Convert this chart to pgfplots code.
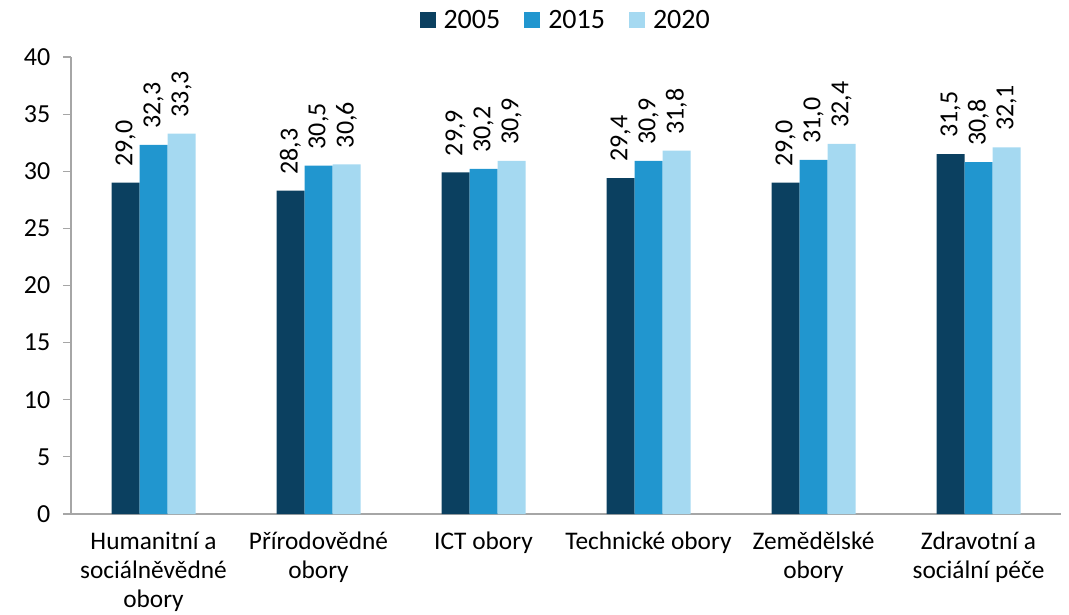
\documentclass[border=0pt]{standalone}
\usepackage{pgfplots}
\pgfplotsset{compat=1.18}
\usepackage{fontspec}
\setmainfont{Carlito}
\usetikzlibrary{calc}

\definecolor{c05}{HTML}{0B4060}
\definecolor{c15}{HTML}{2196CF}
\definecolor{c20}{HTML}{A5D9F1}
\definecolor{axgray}{HTML}{A6A6A6}

% rok 2005, 2015, 2020 po oborech (x = 0..5)
\pgfplotstableread{
x y05 y15 y20
0 29.0 32.3 33.3
1 28.3 30.5 30.6
2 29.9 30.2 30.9
3 29.4 30.9 31.8
4 29.0 31.0 32.4
5 31.5 30.8 32.1
}\data

\begin{document}
\begin{tikzpicture}
\begin{axis}[
    scale only axis, width=742.5pt, height=342.75pt,
    ymin=0, ymax=40, ytick={0,5,...,40},
    xmin=-0.5, xmax=5.5,
    xtick={0,...,5},
    xticklabels={{Humanitní a\\sociálněvědné\\obory},{Přírodovědné\\obory},{ICT obory},{Technické obory},{Zemědělské\\obory},{Zdravotní a\\sociální péče}},
    x tick label style={align=center, font=\fontsize{19}{21.8}\selectfont, anchor=north, yshift=-4pt},
    y tick label style={font=\fontsize{19.5}{22}\selectfont, xshift=-6pt},
    /pgf/number format/assume math mode=true,
    axis x line*=bottom, axis y line*=left,
    axis line style={axgray, line width=0.9pt},
    every tick/.style={axgray, line width=0.9pt},
    tick align=outside,
    major tick length=6pt,
    x tick style={draw=none},
    extra x ticks={-0.5,0.5,...,5.5},
    extra x tick labels={},
    extra x tick style={major tick length=6pt, tick style={axgray, line width=0.9pt}},
    ybar=0pt, bar width=21pt,
    nodes near coords={\pgfmathprintnumber[fixed,fixed zerofill,precision=1,use comma]{\pgfplotspointmeta}},
    every node near coord/.append style={rotate=90, anchor=west, inner xsep=12pt, inner ysep=0pt, font=\fontsize{19.5}{22}\selectfont, black},
    legend style={at={(0.5,1)}, anchor=center, yshift=27.75pt, draw=none, fill=none,
        legend columns=3, font=\fontsize{21}{24}\selectfont,
        /tikz/every even column/.append style={column sep=16pt}},
    legend image code/.code={\fill[#1] (0pt,-6pt) rectangle (12pt,6pt); \path (16pt,0pt);},
    clip=false,
]
\addplot[fill=c05, draw=none] table[x=x, y=y05] {\data};
\addplot[fill=c15, draw=none] table[x=x, y=y15] {\data};
\addplot[fill=c20, draw=none] table[x=x, y=y20] {\data};
\legend{2005,2015,2020}
\coordinate (O) at (rel axis cs:0,0);
\end{axis}
\pgfresetboundingbox
\path ($(O)+(-53.25pt,-75.5pt)$) rectangle ($(O)+(748.5pt,385.5pt)$);
\end{tikzpicture}
\end{document}
